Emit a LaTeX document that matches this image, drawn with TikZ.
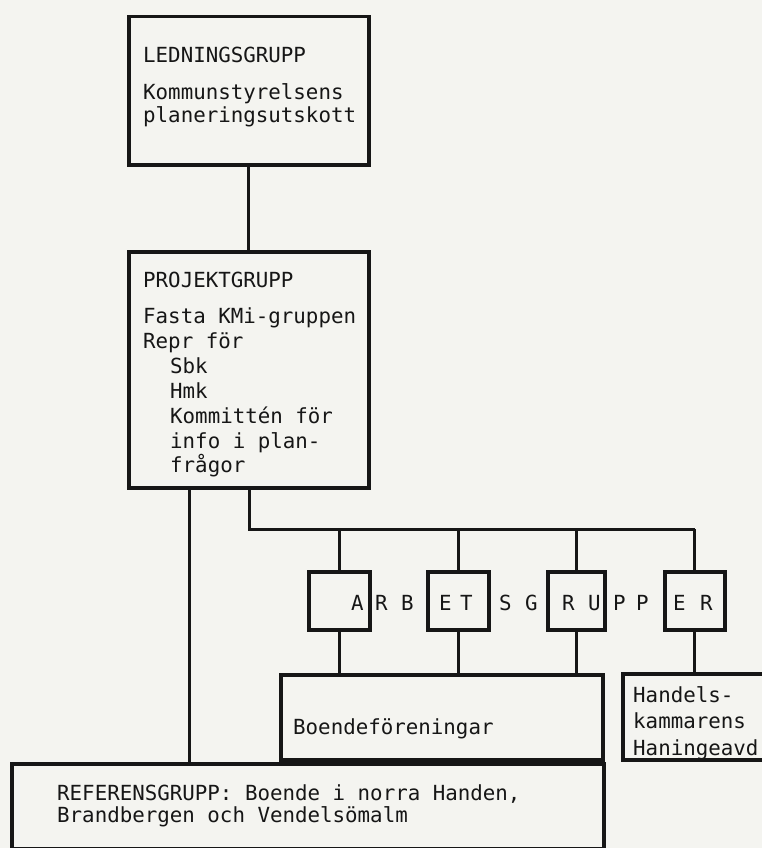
\documentclass[tikz,border=0pt]{standalone}
\usepackage{fontspec}
\newfontfamily\tw{DejaVu Sans Mono}
\definecolor{paper}{RGB}{244,244,240}
\definecolor{ink}{RGB}{22,22,22}
\begin{document}
\begin{tikzpicture}[x=1pt,y=-1pt,
  box/.style={draw=ink,line width=3.5pt,rectangle,inner sep=0pt,anchor=north west},
  conn/.style={draw=ink,line width=3pt},
  txt/.style={anchor=base west,inner sep=0pt,font=\tw\fontsize{20.8}{25}\selectfont,text=ink}]
\fill[paper] (0,0) rectangle (762,848);
\useasboundingbox (0,0) rectangle (762,848);
\clip (0,0) rectangle (762,848);

% boxes
\node[box,minimum width=240pt,minimum height=148pt] (L) at (127,15) {};
\node[box,minimum width=240pt,minimum height=236pt] (P) at (127,250) {};
\node[box,minimum width=61pt,minimum height=58pt] (a1) at (307,570) {};
\node[box,minimum width=61pt,minimum height=58pt] (a2) at (426,570) {};
\node[box,minimum width=57pt,minimum height=58pt] (a3) at (546,570) {};
\node[box,minimum width=60pt,minimum height=58pt] (a4) at (663,570) {};
\node[box,minimum width=322pt,minimum height=85pt] (B) at (279,673) {};
\node[box,minimum width=160pt,minimum height=86pt] (H) at (621,672) {};
\node[box,minimum width=592pt,minimum height=85pt] (R) at (10,762) {};

% connectors
\coordinate (bus) at (249,529);
\coordinate (rl) at (189,600);
\draw[conn] (L.south) -- (P.north);
\draw[conn] (P.south -| bus) -- (bus) -- (bus -| a4.north);
\foreach \a in {a1,a2,a3,a4} \draw[conn] (\a.north |- bus) -- (\a.north);
\foreach \a in {a1,a2,a3} \draw[conn] (\a.south) -- (\a.south |- B.north);
\draw[conn] (a4.south) -- (a4.south |- H.north);
\draw[conn] (P.south -| rl) -- (R.north -| rl);

% texts
\node[txt] (t1) at (143,63) {LEDNINGSGRUPP};
\node[txt] (t2) at (143,100) {Kommunstyrelsens};
\node[txt] (t3) at (143,123) {planeringsutskott};

\node[txt] (p1) at (143,287) {PROJEKTGRUPP};
\node[txt] (p2) at (143,323) {Fasta KMi-gruppen};
\node[txt] (p3) at (143,348) {Repr för};
\node[txt] (p4) at (170,373) {Sbk};
\node[txt] (p5) at (170,398) {Hmk};
\node[txt] (p6) at (170,423) {Kommittén för};
\node[txt] (p7) at (170,448) {info i plan-};
\node[txt] (p8) at (170,472) {frågor};

\foreach \x/\c [count=\i] in {351/A,375/R,401/B,439/E,460/T,499/S,525/G,562/R,588/U,613/P,636/P,673/E,700/R}
  \node[txt] (g\i) at (\x,610) {\c};

\node[txt] (b1) at (293,734) {Boendeföreningar};
\node[txt] (h1) at (633,702) {Handels-};
\node[txt] (h2) at (633,728) {kammarens};
\node[txt] (h3) at (633,755) {Haningeavd};
\node[txt] (r1) at (57,800) {REFERENSGRUPP: Boende i norra Handen,};
\node[txt] (r2) at (57,822) {Brandbergen och Vendelsömalm};
\end{tikzpicture}
\end{document}
